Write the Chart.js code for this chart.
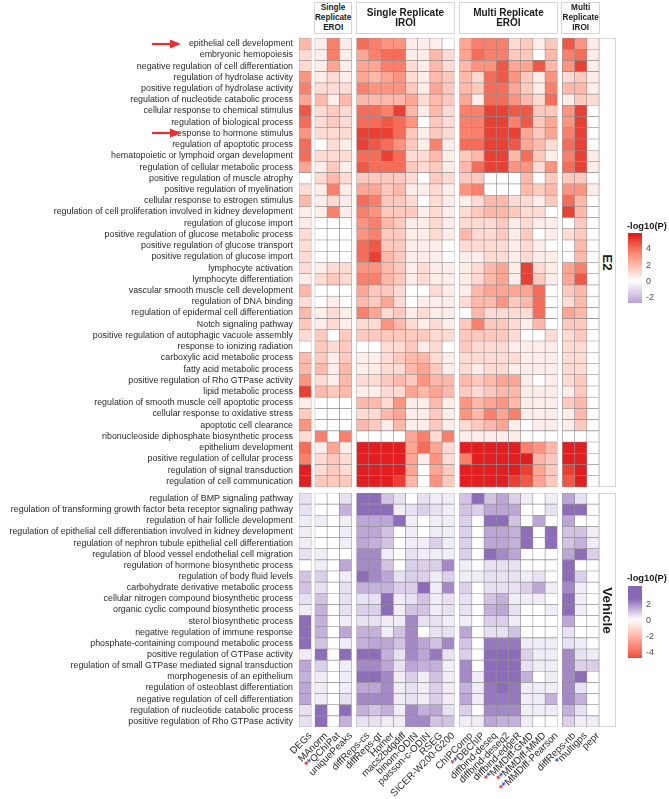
<!DOCTYPE html>
<html>
<head>
<meta charset="utf-8">
<script src="https://cdn.jsdelivr.net/npm/chart.js@4.4.0/dist/chart.umd.min.js"></script>
<style>
body{margin:0;background:#fff;font-family:"Liberation Sans",Arial,Helvetica,sans-serif;}
#wrap{position:relative;width:669px;height:799px;overflow:hidden;background:#fff;}
canvas{position:absolute;left:0;}
.strip{position:absolute;box-sizing:border-box;border:1px solid #d6d6d6;background:#fff;color:#1a1a1a;font-weight:bold;text-align:center;display:flex;align-items:center;justify-content:center;}
.vstrip span{display:block;transform:rotate(90deg);white-space:nowrap;font-size:13.5px;}
.xlab{position:absolute;white-space:nowrap;font-size:9.8px;line-height:10px;height:10px;color:#2a2a2a;transform-origin:100% 50%;transform:rotate(-45deg);}
.rs{color:#e3262b;font-weight:bold;}
.bs{color:#3a4fc4;font-weight:bold;}
.ltitle{position:absolute;font-size:9.3px;font-weight:bold;color:#1a1a1a;white-space:nowrap;}
.lbar{position:absolute;width:14px;}
.ltick{position:absolute;font-size:9px;line-height:10px;color:#4d4d4d;}
</style>
</head>
<body>
<div id="wrap">
  <canvas id="e2" width="599" height="449" style="top:38px"></canvas>
  <canvas id="veh" width="599" height="234" style="top:493px"></canvas>
  <svg width="669" height="799" style="position:absolute;left:0;top:0;pointer-events:none">
    <line x1="152" y1="44" x2="172" y2="44" stroke="#e8302e" stroke-width="2.2"/>
    <polygon points="170,39.5 181,44 170,48.5" fill="#e8302e"/>
    <line x1="152" y1="133" x2="172" y2="133" stroke="#e8302e" stroke-width="2.2"/>
    <polygon points="170,128.5 181,133 170,137.5" fill="#e8302e"/>
  </svg>
</div>
<script>
// methods (columns)
var methods = ['DEGs','MAnorm','QChIPat','uniquePeaks','diffReps-cs','diffReps-gt','Homer','macs2bdgdiff','binom-ODIN','poisson-c-ODIN','RSEG','SICER-W200-G200','ChIPComp','DBChIP','diffbind-deseq','diffbind-deseq2','diffbind-edgeR','MMDiff-GMD','MMDiff-MMD','MMDiff-Pearson','diffReps-nb','multigps','pepr'];
var redStar = ['QChIPat','DBChIP','MMDiff-GMD','MMDiff-MMD','MMDiff-Pearson'];
var blueStar = ['QChIPat','DBChIP','MMDiff-GMD','MMDiff-MMD','MMDiff-Pearson','multigps'];
var groupNames = ['', 'Single<br>Replicate<br>EROI', 'Single Replicate<br>IROI', 'Multi Replicate<br>EROI', 'Multi<br>Replicate<br>IROI'];
var groupSizes = [1, 3, 8, 8, 3];

var e2Terms = ['epithelial cell development','embryonic hemopoiesis','negative regulation of cell differentiation','regulation of hydrolase activity','positive regulation of hydrolase activity','regulation of nucleotide catabolic process','cellular response to chemical stimulus','regulation of biological process','response to hormone stimulus','regulation of apoptotic process','hematopoietic or lymphoid organ development','regulation of cellular metabolic process','positive regulation of muscle atrophy','positive regulation of myelination','cellular response to estrogen stimulus','regulation of cell proliferation involved in kidney development','regulation of glucose import','positive regulation of glucose metabolic process','positive regulation of glucose transport','positive regulation of glucose import','lymphocyte activation','lymphocyte differentiation','vascular smooth muscle cell development','regulation of DNA binding','regulation of epidermal cell differentiation','Notch signaling pathway','positive regulation of autophagic vacuole assembly','response to ionizing radiation','carboxylic acid metabolic process','fatty acid metabolic process','positive regulation of Rho GTPase activity','lipid metabolic process','regulation of smooth muscle cell apoptotic process','cellular response to oxidative stress','apoptotic cell clearance','ribonucleoside diphosphate biosynthetic process','epithelium development','positive regulation of cellular process','regulation of signal transduction','regulation of cell communication'];

var vehTerms = ['regulation of BMP signaling pathway','regulation of transforming growth factor beta receptor signaling pathway','regulation of hair follicle development','regulation of epithelial cell differentiation involved in kidney development','regulation of nephron tubule epithelial cell differentiation','regulation of blood vessel endothelial cell migration','regulation of hormone biosynthetic process','regulation of body fluid levels','carbohydrate derivative metabolic process','cellular nitrogen compound biosynthetic process','organic cyclic compound biosynthetic process','sterol biosynthetic process','negative regulation of immune response','phosphate-containing compound metabolic process','positive regulation of GTPase activity','regulation of small GTPase mediated signal transduction','morphogenesis of an epithelium','regulation of osteoblast differentiation','negative regulation of cell differentiation','regulation of nucleotide catabolic process','positive regulation of Rho GTPase activity'];

// -log10(P), one row per term, one value per method
var e2Values = [
[2, 0.5,3.5,0.5, 4,3.5,3,3, 0.5,0.5,0.5,0, 2.5,3.5,3.5,3.5, 1,1.5,0.5,1.5, 4.5,3,0.5],
[1, 0.5,3.5,0.5, 2.5,3.5,4,4, 0.5,0.5,2,1, 2.5,4,3.5,3.5, 1.5,1.5,0,2, 3.5,4,0.5],
[1, 0.5,2.5,0.5, 2.5,2.5,3.5,3.5, 1,0.5,2,1, 2,3,3,4.5, 2.5,2.5,4.5,2, 3,5,0.5],
[3, 0.5,1,0.5, 2.5,2,2.5,3, 1,0.5,2,1.5, 2,1,4,4.5, 3,1.5,0.5,3, 1,1.5,0.5],
[3.5, 1,1,1, 3.5,3,3,3, 1.5,0.5,2.5,1.5, 2,1.5,4,4, 2.5,1.5,0.5,3.5, 2,2,0.5],
[2.5, 2,0.5,2, 2,2,2,2, 2.5,1,2,1.5, 2.5,0.5,4,4, 3,2,1,4, 0.5,1.5,1],
[4.5, 1,1.5,1, 4,4,3.5,5, 2,0.5,2,1, 3.5,3.5,5,5, 4.5,4.5,1.5,1.5, 3,5,0],
[4, 1,1.5,1, 4,4,4.5,4, 3,0,1.5,1, 3.5,3.5,5,5, 3.5,4.5,1.5,2.5, 3,5,0],
[3, 1,1,1, 5,5,5,4, 1.5,0.5,1.5,1, 3.5,3.5,5,5, 5,2.5,1.5,2.5, 3.5,5,0],
[4, 0,1,0.5, 5,4.5,4,3, 1.5,0.5,3.5,0.5, 4,4,5,5, 4.5,2.5,2,1, 4,5,0],
[4, 1,1,1, 4,4,5,4, 1,1,2,0.5, 1.5,2,5,5, 2,4,1.5,0.5, 3.5,5,0.5],
[2.5, 0.5,1.5,0.5, 4.5,4,4,4, 1.5,1,1.5,0.5, 2,4,5,5, 3,3,1,3, 4,5,0.5],
[0, 1,2,1, 1.5,1.5,1.5,1.5, 1,0,1.5,1, 1.5,1.5,0,0, 0,2,0,1.5, 1.5,1.5,0],
[1, 0.5,3.5,0.5, 2.5,2.5,1.5,2, 0.5,0.5,1,0.5, 3,3.5,0,0, 0,2,1.5,2, 3,3,0.5],
[2, 0.5,1,0.5, 4,3.5,1.5,1.5, 1,0,1,0.5, 0.5,1,2,2, 1,1,0.5,1.5, 4,2,0],
[0.5, 0.5,3.5,0.5, 3.5,3,1.5,1.5, 1.5,0.5,1,0.5, 1,1.5,2,2, 1.5,1,1,0, 5,2,0],
[0.5, 0,0,0, 3,3.5,2,1.5, 0.5,0.5,1,0.5, 1,1,1,1.5, 0.5,1,0.5,0.5, 0,1.5,0],
[1, 0,0,0, 3,3.5,1.5,1.5, 0.5,0.5,1,0.5, 2,1,1,1.5, 0.5,1.5,0,0.5, 1,1.5,0],
[1, 0,0,0, 4,4.5,1.5,1.5, 0.5,0.5,0.5,0, 1,1,1,1, 0.5,1,0.5,0, 0,2,0],
[1, 0,0,0, 4,5,2,1.5, 0.5,0.5,0.5,0, 0.5,0.5,1,1, 0.5,1,0.5,0.5, 0,2,0],
[1, 0.5,1,1, 3,3,2,1.5, 0.5,1,0.5,0.5, 0.5,1,2,2.5, 0.5,5,1,0.5, 2.5,3.5,0],
[0.5, 1,1.5,1, 3.5,3.5,2,1.5, 0.5,1,0.5,0.5, 0.5,1,2,2.5, 0.5,5,1.5,0.5, 2.5,4.5,0],
[2, 0,0,0, 2.5,1.5,1.5,1, 0,0,1,0.5, 0.5,2,2.5,2.5, 2.5,2.5,4,0, 1.5,2,0],
[1, 0,0.5,0, 2,1.5,2.5,1, 0,0.5,0.5,0.5, 1,2,2,3, 1.5,2,4,0, 1,2,0],
[2, 0.5,1,0.5, 3.5,2.5,1,1.5, 0.5,1,0.5,0.5, 0,2,1,1, 1,1,4,0, 2.5,2,0],
[1.5, 0.5,1,0.5, 1,1,3,2, 1,0.5,1,0.5, 1.5,3.5,1.5,1.5, 1,0.5,2,0, 1.5,1.5,0],
[1, 1.5,0,1.5, 1.5,1.5,1.5,1.5, 1.5,1.5,1,1, 1.5,1.5,1.5,1.5, 1,0,0,1, 1,1.5,0],
[0, 1.5,1,1.5, 0,0,1,1, 1.5,0.5,1,0, 1.5,1,1,1, 0.5,0.5,0.5,0.5, 1,1,0],
[2, 1.5,0.5,1.5, 0.5,0.5,1,1.5, 2,2,1,0.5, 1,1,1,1, 1,0.5,0.5,0.5, 1,1,0],
[2, 2,0.5,2, 0.5,0.5,1,1, 2,2.5,1.5,0.5, 1,0.5,1,1, 0.5,0.5,0.5,0.5, 1,1,0],
[3, 1,0.5,2, 1,1,1.5,2, 1.5,3,2,2, 2,1.5,2,2.5, 2.5,0.5,0,0.5, 1,1.5,0],
[5, 2,1.5,2, 0.5,0.5,1,1, 2.5,2,2.5,2, 1.5,1,1.5,2, 2,0.5,0.5,0.5, 0.5,1.5,0],
[0.5, 0,0,0, 2,2,1,3, 0.5,0.5,2,0.5, 3,2,2.5,3, 2,0.5,0.5,0.5, 1.5,2,0],
[1.5, 0,0,0, 1,1,2,2.5, 0.5,0.5,1.5,0.5, 3,2,3.5,2.5, 3.5,0.5,0.5,0.5, 0.5,2,0],
[3, 0,0,0, 2,1.5,0.5,2, 0.5,0.5,1.5,0.5, 1,1.5,2,2.5, 0.5,0,0.5,0.5, 0.5,1.5,0],
[1, 3.5,0,3.5, 0,0,0,0, 2.5,3.5,1,3.5, 0.5,0.5,0.5,0.5, 0.5,0,0,0, 0,0,0],
[4, 0.5,2.5,0.5, 5.5,5.5,5.5,5.5, 2.5,4,2.5,1, 5.5,5.5,5.5,5.5, 5.5,3.5,3,2, 5.5,5.5,0],
[3.5, 1,1.5,1, 5.5,5.5,5.5,5.5, 2.5,0.5,3,1, 3.5,5.5,5.5,5.5, 5.5,5.5,2,1.5, 5.5,5.5,0],
[5.5, 1,1.5,1, 5.5,5.5,5.5,5.5, 2.5,0,2.5,1.5, 5.5,5.5,5.5,5.5, 5.5,5,2.5,1.5, 5,5.5,0],
[5.5, 1.5,1.5,1.5, 5.5,5.5,5.5,5, 2,0,3,1.5, 5.5,5.5,5.5,5.5, 5,4.5,2.5,1.5, 4.5,5.5,0]
];

var vehValues = [
[0.5, 0,0,0.5, 2.5,2.5,1,0.5, 0,0.5,0.3,0.3, 1,2.5,1,1.5, 0.8,0.3,0,0.3, 1.5,0.5,0],
[0.5, 0,0,1.3, 2.5,2.5,2.5,0.3, 0.5,0.8,0.5,0.3, 1,0.8,1.5,1.5, 1.5,0,0,0.5, 2.5,2.5,0],
[0.3, 0.3,0,0.3, 1.5,1.5,1.5,2.5, 0.3,0,0.3,0.3, 0.8,0,2.5,2.5, 1,0,1.5,0, 1.5,0,0],
[0.3, 0,0,0.3, 1.5,1.5,1,0, 0.3,0,0.3,0.3, 0.8,0,1.5,1.5, 1.3,2.5,0,2.5, 1,1,0.3],
[0.3, 0,0,0.3, 1.5,1.3,1,0, 0.3,0.3,0.8,0.3, 0.8,0,1.5,1.5, 1.3,2.5,0,2.5, 1,1.3,0.3],
[0.5, 0.3,0,0, 2,2,0.3,0, 0.5,0.3,0.3,0.3, 0.8,0,2.5,2, 1.5,0,0,0, 1.5,2.5,0.8],
[0, 0.3,0,1.5, 2,2,1,0, 0.8,0.8,0.8,2, 0.3,0,0.5,0.5, 0.5,0,0,0, 2.5,0,0],
[1, 0.8,0,0.3, 2.5,2,1.5,0.5, 0.8,0.8,0.3,0.8, 0.3,0.3,0.5,0.5, 0.5,0.3,0.5,0, 2.5,0.8,0],
[1, 0.5,0,0.5, 1.3,1.3,1.3,0.8, 0.8,2.5,0.3,2, 0.8,0,0.5,0.5, 0.5,0.8,1.5,0.3, 2,0.3,0],
[0.5, 1,0,0.5, 0.5,0.5,2.5,0.3, 0.5,1,0.3,0.5, 0.5,0,1,1.3, 0.3,0.3,0.3,0, 2.5,0.3,0],
[0.3, 1.3,0,0.5, 0.8,0.8,2.5,0.3, 1,1,0.3,0.5, 0.5,0,1.3,1.5, 0.5,0,0,0.3, 2.5,0.3,0],
[2.5, 1.3,0,0.3, 0.5,0.5,0.3,0.3, 2,0.5,0.5,0.3, 0.3,0,0.8,0.8, 0.3,0,0,0, 1.5,0,0],
[2.5, 1.3,0,1.5, 1.3,1.3,0.3,1, 2,0,0.5,0.5, 1.5,0,0.5,0.5, 1,0,0,0, 0.5,0,0],
[2.5, 1,0,0.3, 1.3,1.5,1.5,1, 2,1.5,1,2, 1,0,2.3,2.3, 2.3,0.3,0.3,0.3, 0.5,0.3,0],
[0.3, 2.5,0,2.5, 2.5,2.5,1.3,0.5, 2,1.5,2.3,0.5, 0.8,0,2.5,2.5, 2.5,0.8,0.3,0.3, 2,0.5,0.3],
[1.5, 0.8,0,0.3, 2,2,1.5,0.5, 1.5,1.3,1.3,0.3, 2,0,2.5,2.5, 2.5,0.5,0.3,0.3, 2,0.8,0.8],
[1.3, 0.3,0,0.3, 2.5,2.5,2,0.3, 0.8,0.3,1,0.3, 2,0.3,2.5,2.5, 2.5,1.3,0,0.3, 2,2.5,0],
[1.5, 0.3,0,0.3, 1.5,1.5,2,0.3, 0.5,0.3,0.8,0.3, 1.3,0.3,2.3,2.5, 2.3,0.3,0.3,0.3, 2,0.5,0],
[1.5, 0.3,0,0.5, 2,2,2,0.3, 0.5,0.3,0.8,0.3, 1.5,0.3,2.3,2.3, 2.3,0.3,0.3,1.3, 2,1.3,0],
[0.5, 2.5,0,2.5, 1.3,1,1.3,0.3, 2,1.3,1.5,0.5, 0.8,0,2,2, 2,0.3,0.3,0.3, 1.3,0.5,0],
[0.5, 2.5,0,1.3, 0.5,0.5,0.3,0.3, 2,2,1,1, 0.3,0.3,1.5,1.3, 1.3,0.3,0,0, 0.8,0.3,0.3]
];

// legends
var e2LegendTicks = [4, 2, 0, -2];
var e2LegendRange = [5.85, -2.7];
var vehLegendTicks = [2, 0, -2, -4];
var vehLegendRange = [4.2, -4.8];

// colours, mixed from white in Lab space like ggplot's gradient
var RED = [226, 30, 32];
var PURPLE = [136, 104, 182];
function toLin(c) { c /= 255; return c <= 0.04045 ? c / 12.92 : Math.pow((c + 0.055) / 1.055, 2.4); }
function fromLin(c) { c = c <= 0.0031308 ? 12.92 * c : 1.055 * Math.pow(c, 1 / 2.4) - 0.055; return Math.round(Math.max(0, Math.min(1, c)) * 255); }
function labF(t) { return t > 0.008856 ? Math.cbrt(t) : 7.787 * t + 16 / 116; }
function labFi(t) { return t > 0.206893 ? t * t * t : (t - 16 / 116) / 7.787; }
function rgb2lab(c) {
	var r = toLin(c[0]), g = toLin(c[1]), b = toLin(c[2]);
	var x = (0.4124 * r + 0.3576 * g + 0.1805 * b) / 0.95047;
	var y = 0.2126 * r + 0.7152 * g + 0.0722 * b;
	var z = (0.0193 * r + 0.1192 * g + 0.9505 * b) / 1.08883;
	var fx = labF(x), fy = labF(y), fz = labF(z);
	return [116 * fy - 16, 500 * (fx - fy), 200 * (fy - fz)];
}
function lab2rgb(l) {
	var fy = (l[0] + 16) / 116, fx = fy + l[1] / 500, fz = fy - l[2] / 200;
	var x = labFi(fx) * 0.95047, y = labFi(fy), z = labFi(fz) * 1.08883;
	var r = 3.2406 * x - 1.5372 * y - 0.4986 * z;
	var g = -0.9689 * x + 1.8758 * y + 0.0415 * z;
	var b = 0.0557 * x - 0.2040 * y + 1.0570 * z;
	return [fromLin(r), fromLin(g), fromLin(b)];
}
var WHITE_LAB = rgb2lab([255, 255, 255]);
var RED_LAB = rgb2lab(RED);
var PURPLE_LAB = rgb2lab(PURPLE);
function mix(lab, t) {
	t = Math.max(0, Math.min(1, t));
	var c = lab2rgb([0, 1, 2].map(i => WHITE_LAB[i] + (lab[i] - WHITE_LAB[i]) * t));
	return 'rgb(' + c.join(',') + ')';
}
function colorE2(v) {
	return v >= 0 ? mix(RED_LAB, v / 5.5) : mix(PURPLE_LAB, -v / 4.5);
}
function colorVeh(v) {
	return v >= 0 ? mix(PURPLE_LAB, v / 2.6) : mix(RED_LAB, -v / 5.5);
}

// column positions on the x scale (unit-wide cells, small gaps between groups)
var GAPS = [0.3, 0.42, 0.44, 0.42];
var colStart = [];
var groupStart = [];
var pos = 0;
for (let g = 0; g < groupSizes.length; g++) {
	if (g > 0) pos += GAPS[g - 1];
	groupStart.push(pos);
	for (let k = 0; k < groupSizes[g]; k++) {
		colStart.push(pos);
		pos += 1;
	}
}
var xMax = pos;
var FONT = '"Liberation Sans", Arial, Helvetica, sans-serif';

function makeHeat(id, terms, values, colorFn) {
	var datasets = [];
	for (let j = 0; j < methods.length; j++) {
		datasets.push({
			label: methods[j],
			data: terms.map(() => [colStart[j], colStart[j] + 1]),
			backgroundColor: values.map(r => colorFn(r[j])),
			borderColor: '#8e8e8e',
			borderWidth: 0.6,
			borderSkipped: false,
			grouped: false,
			barPercentage: 1,
			categoryPercentage: 1
		});
	}
	return new Chart(document.getElementById(id), {
		type: 'bar',
		data: { labels: terms, datasets: datasets },
		options: {
			indexAxis: 'y',
			responsive: false,
			animation: false,
			layout: { padding: 0 },
			plugins: { legend: { display: false }, tooltip: { enabled: false } },
			scales: {
				x: { type: 'linear', min: 0, max: xMax, display: false },
				y: {
					grid: { display: false, drawTicks: false },
					border: { display: false },
					ticks: { autoSkip: false, padding: 6, color: '#2a2a2a', font: { family: FONT, size: 8.9 } },
					afterFit: function(s) { s.width = 299; s.paddingTop = 0; s.paddingBottom = 0; }
				}
			}
		}
	});
}

var e2Chart = makeHeat('e2', e2Terms, e2Values, colorE2);
var vehChart = makeHeat('veh', vehTerms, vehValues, colorVeh);

var wrap = document.getElementById('wrap');
var xs = e2Chart.scales.x;

// top group strips
for (let g = 1; g < groupSizes.length; g++) {
	var l = xs.getPixelForValue(groupStart[g]) - 1;
	var r = xs.getPixelForValue(groupStart[g] + groupSizes[g]) + 1;
	var d = document.createElement('div');
	d.className = 'strip';
	d.style.left = l + 'px';
	d.style.top = '2px';
	d.style.width = (r - l) + 'px';
	d.style.height = '32px';
	var small = groupSizes[g] < 5;
	d.style.fontSize = small ? '8.2px' : '10px';
	d.style.lineHeight = small ? '10.3px' : '10px';
	d.innerHTML = '<div>' + groupNames[g] + '</div>';
	wrap.appendChild(d);
}

// right facet strips
function facetStrip(text, top, h) {
	var d = document.createElement('div');
	d.className = 'strip vstrip';
	d.style.left = '599px';
	d.style.top = top + 'px';
	d.style.width = '17px';
	d.style.height = h + 'px';
	d.innerHTML = '<span>' + text + '</span>';
	wrap.appendChild(d);
}
facetStrip('E2', 38, 449);
facetStrip('Vehicle', 493, 234);

// bottom method labels
methods.forEach(function(m, j) {
	var cx = xs.getPixelForValue(colStart[j] + 0.5);
	var el = document.createElement('div');
	el.className = 'xlab';
	el.style.right = (669 - cx - 5) + 'px';
	el.style.top = '729px';
	var html = '';
	if (redStar.indexOf(m) >= 0) html += '<span class="rs">*</span>';
	if (blueStar.indexOf(m) >= 0) html += '<span class="bs">*</span>';
	el.innerHTML = html + m;
	wrap.appendChild(el);
});

// colour bar legends
function legend(titleTop, barTop, barH, range, ticks, colorFn) {
	var t = document.createElement('div');
	t.className = 'ltitle';
	t.style.left = '627px';
	t.style.top = titleTop + 'px';
	t.textContent = '-log10(P)';
	wrap.appendChild(t);
	var stops = [];
	for (let i = 0; i <= 30; i++) {
		var v = range[0] + (range[1] - range[0]) * i / 30;
		stops.push(colorFn(v) + ' ' + (i / 30 * 100).toFixed(1) + '%');
	}
	var b = document.createElement('div');
	b.className = 'lbar';
	b.style.left = '628px';
	b.style.top = barTop + 'px';
	b.style.height = barH + 'px';
	b.style.background = 'linear-gradient(to bottom,' + stops.join(',') + ')';
	wrap.appendChild(b);
	ticks.forEach(function(v) {
		var y = barTop + (range[0] - v) / (range[0] - range[1]) * barH;
		var k = document.createElement('div');
		k.className = 'ltick';
		k.style.left = '646px';
		k.style.top = (y - 5) + 'px';
		k.textContent = v;
		wrap.appendChild(k);
	});
}
legend(221, 233, 70, e2LegendRange, e2LegendTicks, colorE2);
legend(573, 586, 72, vehLegendRange, vehLegendTicks, colorVeh);
</script>
</body>
</html>
